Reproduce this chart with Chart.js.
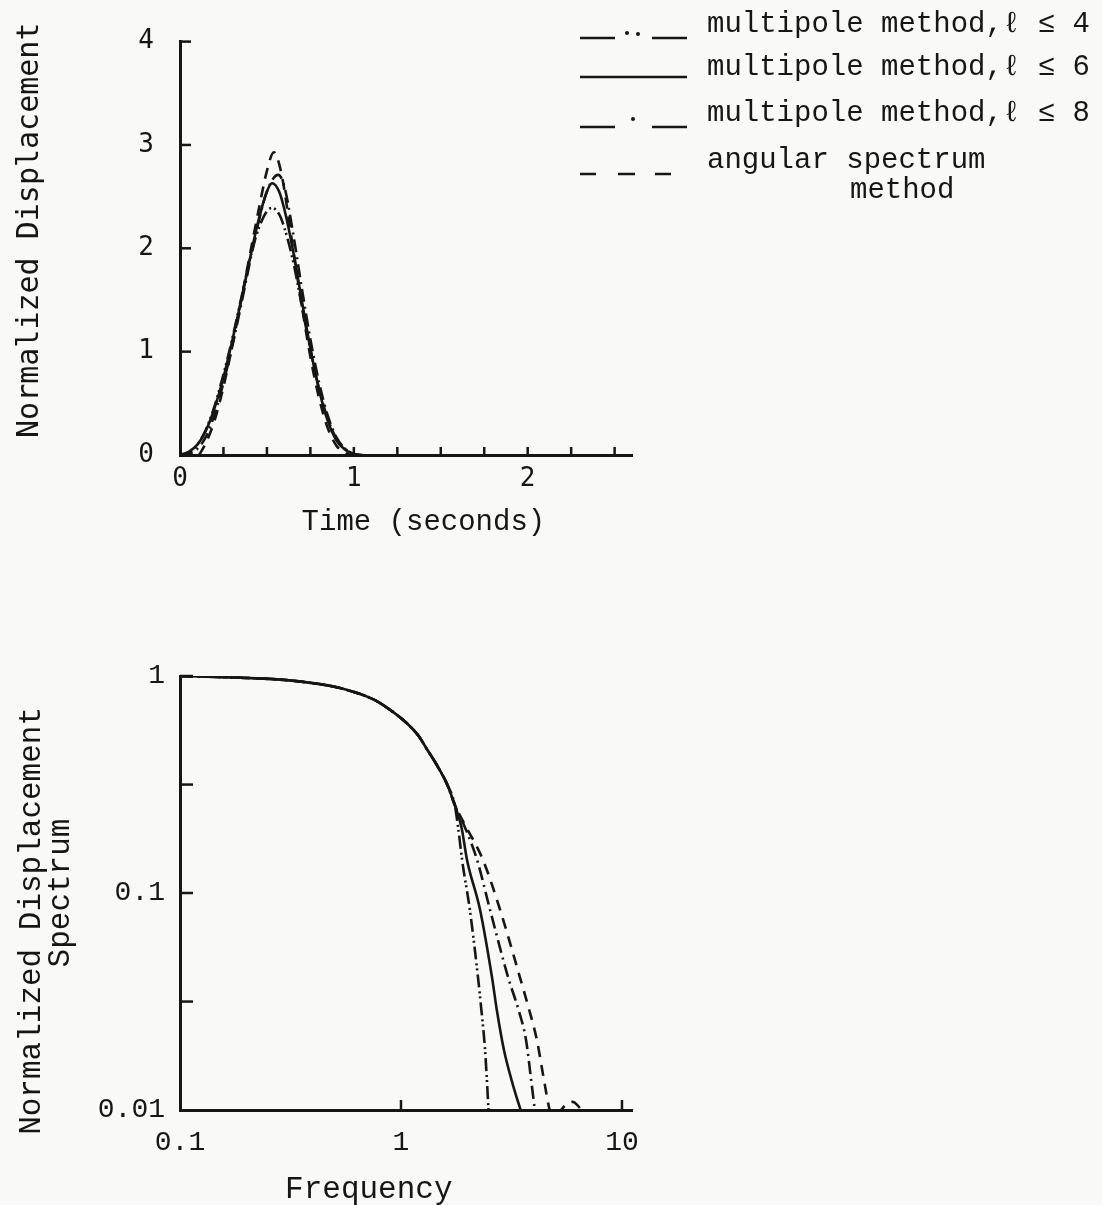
<!DOCTYPE html>
<html>
<head>
<meta charset="utf-8">
<script src="https://cdn.jsdelivr.net/npm/chart.js@4.4.1/dist/chart.umd.min.js"></script>
<style>
  html, body { margin: 0; padding: 0; background: #f9f9f7; overflow: hidden; }
  body { width: 1102px; height: 1205px; position: relative; }
  .box { position: absolute; left: 0; width: 1102px; }
  #top { top: 0; height: 560px; }
  #bottom { top: 600px; height: 620px; }
</style>
</head>
<body>
<div class="box" id="top"><canvas id="time-chart"></canvas></div>
<div class="box" id="bottom"><canvas id="spectrum-chart"></canvas></div>
<script>
// --- data ---
const legendLabels = ['multipole method,\u2113 \u2264 4', 'multipole method,\u2113 \u2264 6', 'multipole method,\u2113 \u2264 8', 'angular spectrum'];

// time domain (seconds -> normalized displacement)
const t4 = [0, 0.05, 0.1, 0.15, 0.2, 0.25, 0.3, 0.35, 0.4, 0.45, 0.5, 0.53, 0.57, 0.6, 0.65, 0.7, 0.75, 0.8, 0.85, 0.9, 0.95, 1.0, 1.03];
const d4 = [0, 0.02, 0.1, 0.25, 0.48, 0.78, 1.12, 1.5, 1.88, 2.18, 2.36, 2.39, 2.33, 2.2, 1.88, 1.45, 1.02, 0.64, 0.35, 0.16, 0.06, 0.01, 0];
const t6 = [0, 0.05, 0.1, 0.15, 0.2, 0.25, 0.3, 0.35, 0.4, 0.45, 0.5, 0.53, 0.57, 0.6, 0.65, 0.7, 0.75, 0.8, 0.85, 0.9, 0.95, 1.0, 1.04];
const d6 = [0, 0.03, 0.1, 0.24, 0.46, 0.75, 1.1, 1.48, 1.88, 2.26, 2.55, 2.63, 2.55, 2.38, 1.98, 1.5, 1.03, 0.63, 0.33, 0.14, 0.05, 0.01, 0];
const t8 = [0, 0.05, 0.1, 0.15, 0.2, 0.25, 0.3, 0.35, 0.4, 0.45, 0.5, 0.565, 0.6, 0.65, 0.7, 0.75, 0.8, 0.85, 0.9, 0.95, 1.0, 1.05];
const d8 = [0, 0.01, 0.06, 0.18, 0.4, 0.7, 1.05, 1.44, 1.85, 2.24, 2.55, 2.71, 2.6, 2.15, 1.62, 1.12, 0.7, 0.38, 0.17, 0.06, 0.01, 0];
const tA = [0.11, 0.15, 0.2, 0.25, 0.3, 0.35, 0.4, 0.45, 0.5, 0.54, 0.58, 0.62, 0.65, 0.7, 0.75, 0.8, 0.85, 0.9, 0.95, 0.98];
const dA = [0, 0.12, 0.34, 0.66, 1.05, 1.48, 1.92, 2.35, 2.75, 2.93, 2.75, 2.35, 2.0, 1.45, 0.95, 0.55, 0.26, 0.09, 0.02, 0];
const timeTicks = [0, 0.25, 0.5, 0.75, 1, 1.25, 1.5, 1.75, 2, 2.25, 2.5];
const dispTicks = [0, 1, 2, 3, 4];

// spectrum (frequency -> normalized displacement spectrum), shared part then tails
const fCommon = [0.1, 0.187, 0.28, 0.374, 0.53, 0.75, 0.89, 1.06, 1.2, 1.31, 1.45, 1.61, 1.75];
const sCommon = [1.0, 0.982, 0.963, 0.935, 0.88, 0.78, 0.70, 0.607, 0.53, 0.46, 0.39, 0.32, 0.255];
const f4 = [1.82, 1.89, 2.05, 2.23, 2.31, 2.40, 2.46, 2.49, 2.5];
const s4 = [0.195, 0.142, 0.0835, 0.041, 0.029, 0.019, 0.0125, 0.0098, 0.009];
const f6 = [1.88, 1.99, 2.28, 2.58, 2.72, 2.92, 3.2, 3.49, 3.6];
const s6 = [0.2, 0.142, 0.0835, 0.041, 0.0285, 0.019, 0.0132, 0.0099, 0.009];
const f8 = [1.95, 2.21, 2.53, 3.05, 3.4, 3.68, 3.88, 4.04, 4.1];
const s8 = [0.2, 0.142, 0.0835, 0.041, 0.029, 0.021, 0.0138, 0.0099, 0.009];
const fA = [1.98, 2.35, 2.81, 3.45, 3.8, 4.12, 4.48, 4.72, 4.9, 5.24, 5.6, 6.0, 6.3, 6.6, 6.8];
const sA = [0.2, 0.142, 0.0835, 0.041, 0.029, 0.021, 0.013, 0.0099, 0.0094, 0.0099, 0.0106, 0.0109, 0.0105, 0.0099, 0.0095];
const freqTicks = [0.1, 1, 10];
const freqLabels = ['0.1', '1', '10'];
const specTicks = [0.01, 0.0316, 0.1, 0.316, 1];
const specLabels = ['0.01', '', '0.1', '', '1'];

const INK = '#161616';
const SANS = '"DejaVu Sans Mono", monospace';
const TYPE = '"Liberation Mono", "Courier New", monospace';

const dashes = [[13, 4, 2, 3, 2, 4], [], [13, 5, 2, 5], [11, 8]];

function pts(xs, ys) {
    return xs.map((x, i) => ({x: x, y: ys[i]}));
}

function makeSets(series) {
    return series.map((data, i) => ({
        label: legendLabels[i],
        data: data,
        borderColor: INK,
        borderWidth: 2.6,
        borderDash: dashes[i],
        pointRadius: 0,
        fill: false,
        cubicInterpolationMode: 'monotone'
    }));
}

// short tick marks pointing into the plot
const inwardTicks = {
    id: 'inwardTicks',
    afterDraw(chart, args, opts) {
        const {ctx, chartArea} = chart;
        const xs = chart.scales.x, ys = chart.scales.y;
        ctx.save();
        ctx.strokeStyle = INK;
        ctx.lineWidth = 2.5;
        xs.ticks.forEach(t => {
            if (t.value <= xs.min) return;
            const px = xs.getPixelForValue(t.value);
            ctx.beginPath();
            ctx.moveTo(px, chartArea.bottom);
            ctx.lineTo(px, chartArea.bottom - opts.x);
            ctx.stroke();
        });
        ys.ticks.forEach(t => {
            if (t.value <= ys.min) return;
            const py = ys.getPixelForValue(t.value);
            ctx.beginPath();
            ctx.moveTo(chartArea.left, py);
            ctx.lineTo(chartArea.left + opts.y, py);
            ctx.stroke();
        });
        ctx.restore();
    }
};

// typewriter style key at top right
const keyBlock = {
    id: 'keyBlock',
    afterDraw(chart) {
        const ctx = chart.ctx;
        const seg = (a, b, y) => { ctx.beginPath(); ctx.moveTo(a, y); ctx.lineTo(b, y); ctx.stroke(); };
        const dot = (x, y) => { ctx.beginPath(); ctx.arc(x, y, 2, 0, Math.PI * 2); ctx.fill(); };
        ctx.save();
        ctx.strokeStyle = INK;
        ctx.fillStyle = INK;
        ctx.lineWidth = 2.5;
        seg(580, 615, 38); dot(627, 33); dot(638, 34); seg(652, 687, 38);
        seg(580, 687, 77);
        seg(580, 615, 127); dot(633, 119); seg(652, 687, 127);
        seg(580, 596, 174); seg(618, 635, 174); seg(655, 671, 174);
        ctx.font = '29px ' + TYPE;
        ctx.textBaseline = 'alphabetic';
        ctx.textAlign = 'left';
        const bases = [32, 75, 121, 168];
        legendLabels.forEach((txt, i) => ctx.fillText(txt, 707, bases[i]));
        ctx.fillText('method', 850, 198);
        ctx.restore();
    }
};

Chart.defaults.color = INK;
Chart.defaults.animation = false;

new Chart(document.querySelector('#time-chart'), {
    type: 'line',
    data: {
        datasets: makeSets([pts(t4, d4), pts(t6, d6), pts(t8, d8), pts(tA, dA)])
    },
    options: {
        responsive: true,
        maintainAspectRatio: false,
        layout: {padding: {left: 0, top: 22, right: 470, bottom: 0}},
        plugins: {legend: {display: false}, tooltip: {enabled: false}, inwardTicks: {x: 8, y: 11}},
        scales: {
            x: {
                type: 'linear', min: 0, max: 2.6,
                afterBuildTicks: s => { s.ticks = timeTicks.map(v => ({value: v})); },
                afterFit: s => { s.height = 105; },
                grid: {display: false, drawTicks: false},
                border: {display: true, color: INK, width: 3},
                ticks: {
                    autoSkip: false, maxRotation: 0, padding: 9,
                    font: {family: SANS, size: 26},
                    callback: v => Number.isInteger(v) ? String(v) : ''
                },
                title: {display: true, text: '  Time (seconds)', font: {family: TYPE, size: 29}, padding: {top: 0, bottom: 20}}
            },
            y: {
                type: 'linear', min: 0, max: 4,
                afterBuildTicks: s => { s.ticks = dispTicks.map(v => ({value: v})); },
                afterFit: s => { s.width = 180; },
                grid: {display: false, drawTicks: false},
                border: {display: true, color: INK, width: 3},
                ticks: {autoSkip: false, padding: 26, font: {family: SANS, size: 26}},
                title: {display: true, text: '  Normalized Displacement', font: {family: SANS, size: 30}, padding: {top: 12, bottom: 0}}
            }
        }
    },
    plugins: [inwardTicks, keyBlock]
});

new Chart(document.querySelector('#spectrum-chart'), {
    type: 'line',
    data: {
        datasets: makeSets([
            pts(fCommon.concat(f4), sCommon.concat(s4)),
            pts(fCommon.concat(f6), sCommon.concat(s6)),
            pts(fCommon.concat(f8), sCommon.concat(s8)),
            pts(fCommon.concat(fA), sCommon.concat(sA))
        ])
    },
    options: {
        responsive: true,
        maintainAspectRatio: false,
        layout: {padding: {left: 0, top: 76, right: 470, bottom: 0}},
        plugins: {legend: {display: false}, tooltip: {enabled: false}, inwardTicks: {x: 10, y: 13}},
        scales: {
            x: {
                type: 'logarithmic', min: 0.1, max: 11.1,
                afterBuildTicks: s => { s.ticks = freqTicks.map(v => ({value: v})); },
                afterFit: s => { s.height = 110; },
                grid: {display: false, drawTicks: false},
                border: {display: true, color: INK, width: 3},
                ticks: {
                    autoSkip: false, maxRotation: 0, padding: 16,
                    font: {family: TYPE, size: 28},
                    callback: (v, i) => freqLabels[i]
                },
                title: {display: true, text: 'Frequency    ', font: {family: TYPE, size: 31}, padding: {top: 0, bottom: 12}}
            },
            y: {
                type: 'logarithmic', min: 0.01, max: 1,
                afterBuildTicks: s => { s.ticks = specTicks.map(v => ({value: v})); },
                afterFit: s => { s.width = 180; },
                grid: {display: false, drawTicks: false},
                border: {display: true, color: INK, width: 3},
                ticks: {
                    autoSkip: false, padding: 15,
                    font: {family: TYPE, size: 28},
                    callback: (v, i) => specLabels[i]
                },
                title: {
                    display: true,
                    text: ['Normalized Displacement   ', 'Spectrum'],
                    font: {family: TYPE, size: 31, lineHeight: 0.95},
                    padding: {top: 17, bottom: 0}
                }
            }
        }
    },
    plugins: [inwardTicks]
});
</script>
</body>
</html>
